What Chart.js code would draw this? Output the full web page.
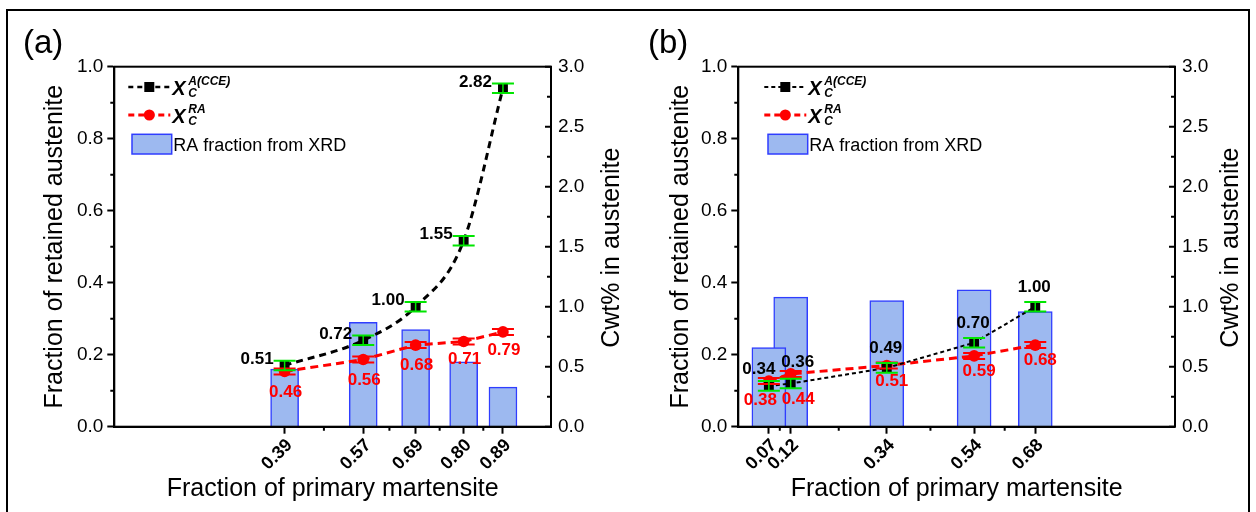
<!DOCTYPE html>
<html>
<head>
<meta charset="utf-8">
<script src="https://cdn.jsdelivr.net/npm/chart.js@4.4.1/dist/chart.umd.min.js"></script>
<style>
  html, body { margin: 0; padding: 0; background: #fff; }
  #wrap { position: relative; width: 1256px; height: 512px; overflow: hidden; background: #fff; }
  #frame { position: absolute; left: 6px; top: 9px; width: 1244px; height: 530px; border: 2px solid #000; box-sizing: border-box; }
  canvas { position: absolute; top: 0; }
  #ca { left: 0; }
  #cb { left: 624px; }
</style>
</head>
<body>
<div id="wrap">
  <div id="frame"></div>
  <canvas id="ca" width="624" height="512"></canvas>
  <canvas id="cb" width="632" height="512"></canvas>
</div>
<script>
// ---------------- data ----------------
// panel (a)
const martA = [0.39, 0.57, 0.69, 0.80, 0.89];          // fraction of primary martensite
const raXrdA = [0.16, 0.29, 0.27, 0.18, 0.11];         // RA fraction from XRD (left axis)
const cceA = [0.51, 0.72, 1.00, 1.55, 2.82];           // X_C^A(CCE)  (right axis, Cwt%)
const cceErrA = [0.04, 0.04, 0.04, 0.04, 0.04];
const craA = [0.46, 0.56, 0.68, 0.71, 0.79];           // X_C^RA (right axis, Cwt%)
const craErrA = [0.025, 0.025, 0.025, 0.025, 0.025];
// panel (b)
const martB = [0.07, 0.12, 0.34, 0.54, 0.68];
const raXrdB = [0.22, 0.36, 0.35, 0.38, 0.32];
const cceB = [0.34, 0.36, 0.49, 0.70, 1.00];
const cceErrB = [0.04, 0.04, 0.04, 0.04, 0.04];
const craB = [0.38, 0.44, 0.51, 0.59, 0.68];
const craErrB = [0.025, 0.025, 0.025, 0.025, 0.025];
// axes
const leftTicks = [0, 0.2, 0.4, 0.6, 0.8, 1.0];
const leftMinor = [0.1, 0.3, 0.5, 0.7, 0.9];
const rightTicks = [0, 0.5, 1.0, 1.5, 2.0, 2.5, 3.0];
const rightMinor = [0.25, 0.75, 1.25, 1.75, 2.25, 2.75];
const texts = {
  yLeft: 'Fraction of retained austenite',
  yRight: 'Cwt% in austenite',
  xTitle: 'Fraction of primary martensite',
  legBar: 'RA fraction from XRD'
};

// ---------------- styling ----------------
const FONT = "'Liberation Sans', Arial, Helvetica, sans-serif";
Chart.defaults.font.family = FONT;
Chart.defaults.color = '#000';
const BAR_FILL = '#9DB9F0';
const BAR_EDGE = '#2F3DFF';
const GREEN = '#00E600';
const RED = '#FF0000';

const CA_LEFT = 114.3, CA_TOP = 66.7, CA_BOTTOM = 426.7, PLOT_W = 436.7;

function makePanel(canvasId, p) {
  const W = document.getElementById(canvasId).width;
  const barData = p.x.map((v, i) => ({ x: v, y: p.bar[i] })).reverse();
  const cceData = p.x.map((v, i) => ({ x: v, y: p.cce[i] }));
  const craData = p.x.map((v, i) => ({ x: v, y: p.cra[i] }));
  const minorX = [];
  for (let i = 0; i < p.x.length - 1; i++) minorX.push((p.x[i] + p.x[i + 1]) / 2);

  const decor = {
    id: 'decor_' + canvasId,
    afterDatasetsDraw(chart) {
      const ctx = chart.ctx;
      const sx = chart.scales.x, sy2 = chart.scales.y2;
      ctx.save();
      const drawErr = (vals, errs, color, vlw) => {
        ctx.strokeStyle = color;
        for (let i = 0; i < vals.length; i++) {
          const px = sx.getPixelForValue(p.x[i]);
          const t = sy2.getPixelForValue(vals[i] + errs[i]);
          const b = sy2.getPixelForValue(vals[i] - errs[i]);
          ctx.lineWidth = vlw;
          ctx.beginPath(); ctx.moveTo(px, t); ctx.lineTo(px, b); ctx.stroke();
          ctx.lineWidth = 2;
          ctx.beginPath();
          ctx.moveTo(px - 11, t); ctx.lineTo(px + 11, t);
          ctx.moveTo(px - 11, b); ctx.lineTo(px + 11, b);
          ctx.stroke();
        }
      };
      drawErr(p.cra, p.craErr, RED, 2);
      drawErr(p.cce, p.cceErr, GREEN, 1.5);
      ctx.font = 'bold 17px ' + FONT;
      ctx.textBaseline = 'alphabetic';
      for (let i = 0; i < p.x.length; i++) {
        const px = sx.getPixelForValue(p.x[i]);
        const py = sy2.getPixelForValue(p.cce[i]);
        const o = p.cceLab[i];
        ctx.fillStyle = '#000';
        ctx.textAlign = o[2];
        ctx.fillText(p.cce[i].toFixed(2), px + o[0], py + o[1]);
      }
      for (let i = 0; i < p.x.length; i++) {
        const px = sx.getPixelForValue(p.x[i]);
        const py = sy2.getPixelForValue(p.cra[i]);
        const o = p.craLab[i];
        ctx.fillStyle = RED;
        ctx.textAlign = 'center';
        ctx.fillText(p.cra[i].toFixed(2), px + o[0], py + o[1]);
      }
      ctx.restore();
    },
    afterDraw(chart) {
      const ctx = chart.ctx;
      const ca = chart.chartArea;
      const sx = chart.scales.x, sy = chart.scales.y, sy2 = chart.scales.y2;
      ctx.save();
      ctx.strokeStyle = '#000'; ctx.lineWidth = 2;
      ctx.strokeRect(ca.left, ca.top, ca.right - ca.left, ca.bottom - ca.top);
      ctx.lineWidth = 2;
      ctx.beginPath();
      minorX.forEach(v => { const px = sx.getPixelForValue(v); ctx.moveTo(px, ca.bottom); ctx.lineTo(px, ca.bottom + 4); });
      leftMinor.forEach(v => { const py = sy.getPixelForValue(v); ctx.moveTo(ca.left, py); ctx.lineTo(ca.left - 4, py); });
      rightTicks.forEach(v => { const py = sy2.getPixelForValue(v); ctx.moveTo(ca.right, py); ctx.lineTo(ca.right - 6, py); });
      rightMinor.forEach(v => { const py = sy2.getPixelForValue(v); ctx.moveTo(ca.right, py); ctx.lineTo(ca.right - 4, py); });
      ctx.stroke();
      ctx.fillStyle = '#000';
      ctx.font = '25px ' + FONT;
      ctx.textAlign = 'center'; ctx.textBaseline = 'middle';
      const cy = (ca.top + ca.bottom) / 2;
      ctx.save(); ctx.translate(ca.left - p.yTitleDx, cy); ctx.rotate(-Math.PI / 2);
      ctx.fillText(texts.yLeft, 0, 0); ctx.restore();
      ctx.save(); ctx.translate(ca.right + p.y2TitleDx, cy + 1); ctx.rotate(-Math.PI / 2);
      ctx.fillText(texts.yRight, 0, 0); ctx.restore();
      ctx.textBaseline = 'alphabetic';
      ctx.fillText(texts.xTitle, (ca.left + ca.right) / 2, 496);
      ctx.font = '33px ' + FONT; ctx.textAlign = 'left';
      ctx.fillText(p.letter, p.letterX, 53);
      const L = ca.left + p.legDx;
      ctx.strokeStyle = '#000'; ctx.lineWidth = p.legW1; ctx.setLineDash(p.legDash1);
      ctx.beginPath(); ctx.moveTo(L, 87); ctx.lineTo(L + 42, 87); ctx.stroke();
      ctx.setLineDash([]);
      ctx.fillStyle = '#000'; ctx.fillRect(L + 21 - 5, 87 - 5, 10, 10);
      ctx.strokeStyle = RED; ctx.lineWidth = 3; ctx.setLineDash([6, 4]);
      ctx.beginPath(); ctx.moveTo(L, 115); ctx.lineTo(L + 42, 115); ctx.stroke();
      ctx.setLineDash([]);
      ctx.fillStyle = RED; ctx.beginPath(); ctx.arc(L + 21, 115, 5.5, 0, Math.PI * 2); ctx.fill();
      ctx.fillStyle = '#000';
      ctx.font = 'italic bold 20px ' + FONT;
      ctx.fillText('X', L + 44, 95);
      ctx.fillText('X', L + 44, 123);
      ctx.font = 'italic bold 12px ' + FONT;
      ctx.fillText('A(CCE)', L + 60, 85);
      ctx.fillText('C', L + 60, 97);
      ctx.fillText('RA', L + 60, 113);
      ctx.fillText('C', L + 60, 125);
      ctx.fillStyle = BAR_FILL; ctx.fillRect(L + 3.7, 134.3, 39.7, 19.7);
      ctx.strokeStyle = BAR_EDGE; ctx.lineWidth = 1.5; ctx.strokeRect(L + 3.7, 134.3, 39.7, 19.7);
      ctx.fillStyle = '#000'; ctx.font = '18px ' + FONT;
      ctx.fillText(texts.legBar, L + 45, 150.5);
      ctx.restore();
    }
  };

  return new Chart(document.getElementById(canvasId), {
    type: 'bar',
    data: {
      datasets: [
        {
          type: 'line', label: 'cce', data: cceData, yAxisID: 'y2', order: 1,
          borderColor: '#000', borderWidth: p.cceW, borderDash: p.cceDash,
          cubicInterpolationMode: p.smooth ? 'monotone' : 'default', tension: 0,
          pointStyle: 'rect', pointRadius: 7, pointBackgroundColor: '#000', pointBorderWidth: 0,
          fill: false
        },
        {
          type: 'line', label: 'cra', data: craData, yAxisID: 'y2', order: 2,
          borderColor: RED, borderWidth: 3, borderDash: [8, 5], tension: 0,
          pointStyle: 'circle', pointRadius: 5.8, pointBackgroundColor: RED, pointBorderWidth: 0,
          fill: false
        },
        {
          type: 'bar', label: 'RA fraction from XRD', data: barData, yAxisID: 'y', order: 3,
          backgroundColor: BAR_FILL, borderColor: BAR_EDGE, borderWidth: 1.5,
          barThickness: p.barW, borderSkipped: 'bottom'
        }
      ]
    },
    options: {
      responsive: false, animation: false, maintainAspectRatio: false,
      layout: { padding: { top: CA_TOP, left: 0, right: 0, bottom: 0 } },
      plugins: { legend: { display: false }, tooltip: { enabled: false } },
      scales: {
        x: {
          type: 'linear', min: 0, max: 1, offset: false, position: 'bottom',
          afterBuildTicks: s => { s.ticks = p.x.map(v => ({ value: v })); },
          afterFit: s => { s.height = 512 - CA_BOTTOM; },
          ticks: {
            autoSkip: false, minRotation: 45, maxRotation: 45, padding: 1, labelOffset: 5,
            font: { size: 18, weight: 'bold' }, color: '#000',
            callback: v => Number(v).toFixed(2)
          },
          grid: { display: true, offset: false, drawOnChartArea: false, drawTicks: true, tickLength: 7, tickWidth: 2, tickColor: '#000' },
          border: { display: true, color: '#000', width: 2 }
        },
        y: {
          type: 'linear', position: 'left', min: 0, max: 1,
          afterBuildTicks: s => { s.ticks = leftTicks.map(v => ({ value: v })); },
          afterFit: s => { s.width = CA_LEFT; },
          ticks: { font: { size: 19 }, color: '#000', padding: 4, callback: v => Number(v).toFixed(1) },
          grid: { display: true, drawOnChartArea: false, drawTicks: true, tickLength: 7, tickWidth: 2, tickColor: '#000' },
          border: { display: true, color: '#000', width: 2 }
        },
        y2: {
          type: 'linear', position: 'right', min: 0, max: 3,
          afterBuildTicks: s => { s.ticks = rightTicks.map(v => ({ value: v })); },
          afterFit: s => { s.width = W - CA_LEFT - PLOT_W; },
          ticks: { font: { size: 19 }, color: '#000', padding: 7, callback: v => Number(v).toFixed(1) },
          grid: { display: false, drawOnChartArea: false, drawTicks: false },
          border: { display: true, color: '#000', width: 2 }
        }
      }
    },
    plugins: [decor]
  });
}

makePanel('ca', {
  letter: '(a)', letterX: 23,
  x: martA, bar: raXrdA, cce: cceA, cceErr: cceErrA, cra: craA, craErr: craErrA,
  smooth: true, cceW: 3, cceDash: [7, 5], barW: 28,
  cceLab: [[-11, -1.5, 'right'], [-11, -1.5, 'right'], [-11, -1.5, 'right'], [-11, -1.5, 'right'], [-11, -1.5, 'right']],
  craLab: [[1, 25], [1, 25], [1, 25], [1, 22], [1, 23]],
  yTitleDx: 59, y2TitleDx: 61.5,
  legDx: 14, legW1: 2.5, legDash1: [5, 4]
});
makePanel('cb', {
  letter: '(b)', letterX: 24,
  x: martB, bar: raXrdB, cce: cceB, cceErr: cceErrB, cra: craB, craErr: craErrB,
  smooth: false, cceW: 2, cceDash: [4, 3], barW: 34,
  cceLab: [[-10, -11.5, 'center'], [7, -17, 'center'], [-1, -15, 'center'], [-1, -15, 'center'], [-1, -15, 'center']],
  craLab: [[-8.5, 24], [7.5, 30], [5, 20], [5, 20], [5, 20]],
  yTitleDx: 57, y2TitleDx: 56,
  legDx: 26, legW1: 2, legDash1: [4, 3]
});
</script>
</body>
</html>
